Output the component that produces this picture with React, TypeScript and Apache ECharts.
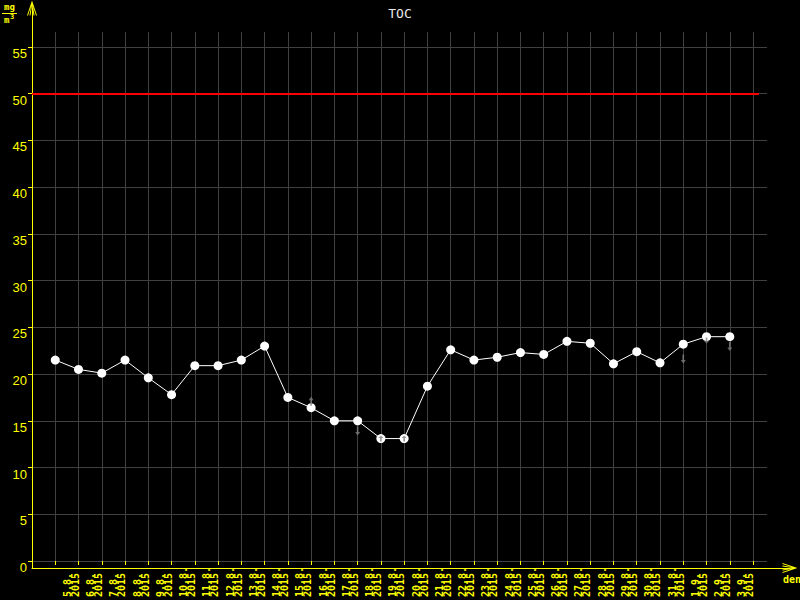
import React, { useEffect, useRef } from "react";
import * as echarts from "echarts";

const dates = [
  "5.8.", "6.8.", "7.8.", "8.8.", "9.8.", "10.8.", "11.8.", "12.8.", "13.8.", "14.8.",
  "15.8.", "16.8.", "17.8.", "18.8.", "19.8.", "20.8.", "21.8.", "22.8.", "23.8.", "24.8.",
  "25.8.", "26.8.", "27.8.", "28.8.", "29.8.", "30.8.", "31.8.", "1.9.", "2.9.", "3.9.",
];
const year = "2015";
const toc = [
  21.5, 20.5, 20.1, 21.5, 19.6, 17.8, 20.9, 20.9, 21.5, 23.0,
  17.5, 16.4, 15.0, 15.0, 13.1, 13.1, 18.7, 22.6, 21.5, 21.8,
  22.3, 22.1, 23.5, 23.3, 21.1, 22.4, 21.2, 23.2, 24.0, 24.0,
];
const yTicks = [0, 5, 10, 15, 20, 25, 30, 35, 40, 45, 50, 55];
const xTicks = Array.from({ length: 31 }, (_, i) => i);
const evenLabels = dates.map((_, i) => i).filter((i) => i % 2 === 0);
const oddLabels = dates.map((_, i) => i).filter((i) => i % 2 === 1);
const limit = 50;

// grey trend arrows
const arrowIdx = [11, 13, 14, 15, 27, 28, 29];
const arrowVal = [17.1, 13.9, 13.1, 13.1, 21.6, 23.6, 22.95];
const arrowDir = ["up", "down", "up", "up", "down", "down", "down"];
const arrowBig = [true, true, false, false, true, false, true];

const YELLOW = "#ffff00";
const GRID = "#404040";
const ARROW_UP = "path://M3,0 L6,4 L4,4 L4,10 L2,10 L2,4 L0,4 Z";
const AXIS_ARROW =
  "path://M5,0 L10,15 L9,15 L5,3 L1,15 L0,15 Z M5,0 L7.5,15 L6.5,15 L5,5 L3.5,15 L2.5,15 Z";

const X_MIN = -1;
const X_MAX = 30.6;

const labelStyle = (values: number[]) => ({
  show: true,
  customValues: values,
  showMinLabel: true,
  showMaxLabel: true,
  formatter: (v: number) => `${dates[Math.round(v)] ?? ""}\n${year}`,
  rotate: 90,
  align: "left",
  verticalAlign: "top",
  padding: [8, 0, 0, 0],
  margin: 36,
  color: YELLOW,
  fontFamily: "DejaVu Sans Mono",
  fontSize: 10,
  fontWeight: "bold",
  lineHeight: 8,
});

export default function App() {
  const ref = useRef<HTMLDivElement>(null);
  useEffect(() => {
    if (!ref.current) return;
    const chart = echarts.init(ref.current, null, { renderer: "svg" });
    const option: any = {
      animation: false,
      backgroundColor: "#000000",
      title: {
        text: "TOC",
        left: "center",
        top: 2,
        textStyle: {
          color: "#e8e8e8",
          fontSize: 13,
          fontWeight: "normal",
          fontFamily: "DejaVu Sans Mono",
        },
      },
      grid: [
        { left: 32, top: 32, right: 33, bottom: 32 },
        { left: 32, top: 8, right: 10, bottom: 32 },
      ],
      xAxis: [
        {
          gridIndex: 0,
          type: "value",
          position: "bottom",
          min: X_MIN,
          max: X_MAX,
          axisLine: { show: false, onZero: false },
          axisTick: {
            show: true,
            customValues: xTicks,
            length: 4,
            lineStyle: { color: YELLOW, width: 1 },
          },
          splitLine: { show: true, lineStyle: { color: GRID, width: 1 } },
          axisLabel: labelStyle(evenLabels),
        },
        {
          gridIndex: 1,
          type: "value",
          min: 0,
          max: 1,
          axisLine: {
            show: true,
            onZero: false,
            lineStyle: { color: YELLOW, width: 1 },
            symbol: ["none", AXIS_ARROW],
            symbolSize: [10, 15],
          },
          axisTick: { show: false },
          axisLabel: { show: false },
          splitLine: { show: false },
        },
        {
          gridIndex: 0,
          type: "value",
          position: "bottom",
          offset: 0,
          min: X_MIN,
          max: X_MAX,
          axisLine: { show: false, onZero: false },
          axisTick: { show: false },
          splitLine: { show: false },
          axisLabel: labelStyle(oddLabels),
        },
      ],
      yAxis: [
        {
          gridIndex: 0,
          type: "value",
          min: 0,
          max: 56.6,
          axisLine: { show: false, onZero: false },
          axisTick: {
            show: true,
            customValues: yTicks,
            length: 4,
            lineStyle: { color: YELLOW, width: 1 },
          },
          splitLine: { show: true, lineStyle: { color: GRID, width: 1 } },
          axisLabel: {
            show: true,
            customValues: yTicks,
            showMinLabel: true,
            showMaxLabel: true,
            color: YELLOW,
            fontFamily: "Liberation Sans",
            fontSize: 13,
            margin: 5,
            verticalAlign: "top",
          },
        },
        {
          gridIndex: 1,
          type: "value",
          min: 0,
          max: 1,
          axisLine: {
            show: true,
            onZero: false,
            lineStyle: { color: YELLOW, width: 1 },
            symbol: ["none", AXIS_ARROW],
            symbolSize: [10, 15],
          },
          axisTick: { show: false },
          axisLabel: { show: false },
          splitLine: { show: false },
        },
      ],
      series: [
        {
          type: "line",
          xAxisIndex: 0,
          yAxisIndex: 0,
          data: toc.map((v, i) => [i, v]),
          lineStyle: { color: "#ffffff", width: 1 },
          itemStyle: { color: "#ffffff", borderWidth: 0 },
          symbol: "circle",
          symbolSize: 9,
          z: 3,
          markLine: {
            silent: true,
            symbol: "none",
            label: { show: false },
            lineStyle: { color: "#ff0000", width: 2, type: "solid" },
            data: [[{ coord: [-1, limit] }, { coord: [30.25, limit] }]],
          },
        },
        {
          type: "scatter",
          xAxisIndex: 0,
          yAxisIndex: 0,
          z: 4,
          data: arrowIdx.map((idx, k) => ({
            value: [idx, arrowVal[k]],
            symbol: ARROW_UP,
            symbolSize: arrowBig[k] ? [5, 9] : [5, 6],
            symbolRotate: arrowDir[k] === "down" ? 180 : 0,
          })),
          itemStyle: { color: "#808080" },
        },
      ],
      graphic: [
        {
          type: "text",
          x: 783,
          y: 574,
          style: {
            text: "den",
            fill: YELLOW,
            font: "bold 10px 'DejaVu Sans Mono'",
          },
        },
        {
          type: "text",
          x: 4,
          y: 2,
          style: {
            text: "mg",
            fill: YELLOW,
            font: "bold 9px 'DejaVu Sans Mono'",
          },
        },
        {
          type: "line",
          shape: { x1: 2, y1: 13.5, x2: 17, y2: 13.5 },
          style: { stroke: YELLOW, lineWidth: 1 },
        },
        {
          type: "text",
          x: 4,
          y: 15,
          style: {
            text: "m",
            fill: YELLOW,
            font: "bold 9px 'DejaVu Sans Mono'",
          },
        },
        {
          type: "text",
          x: 10,
          y: 13,
          style: {
            text: "3",
            fill: YELLOW,
            font: "bold 7px 'DejaVu Sans Mono'",
          },
        },
      ],
    };
    chart.setOption(option);
    return () => chart.dispose();
  }, []);
  return (
    <div
      ref={ref}
      style={{ position: "fixed", left: 0, top: 0, width: 800, height: 600 }}
    />
  );
}
